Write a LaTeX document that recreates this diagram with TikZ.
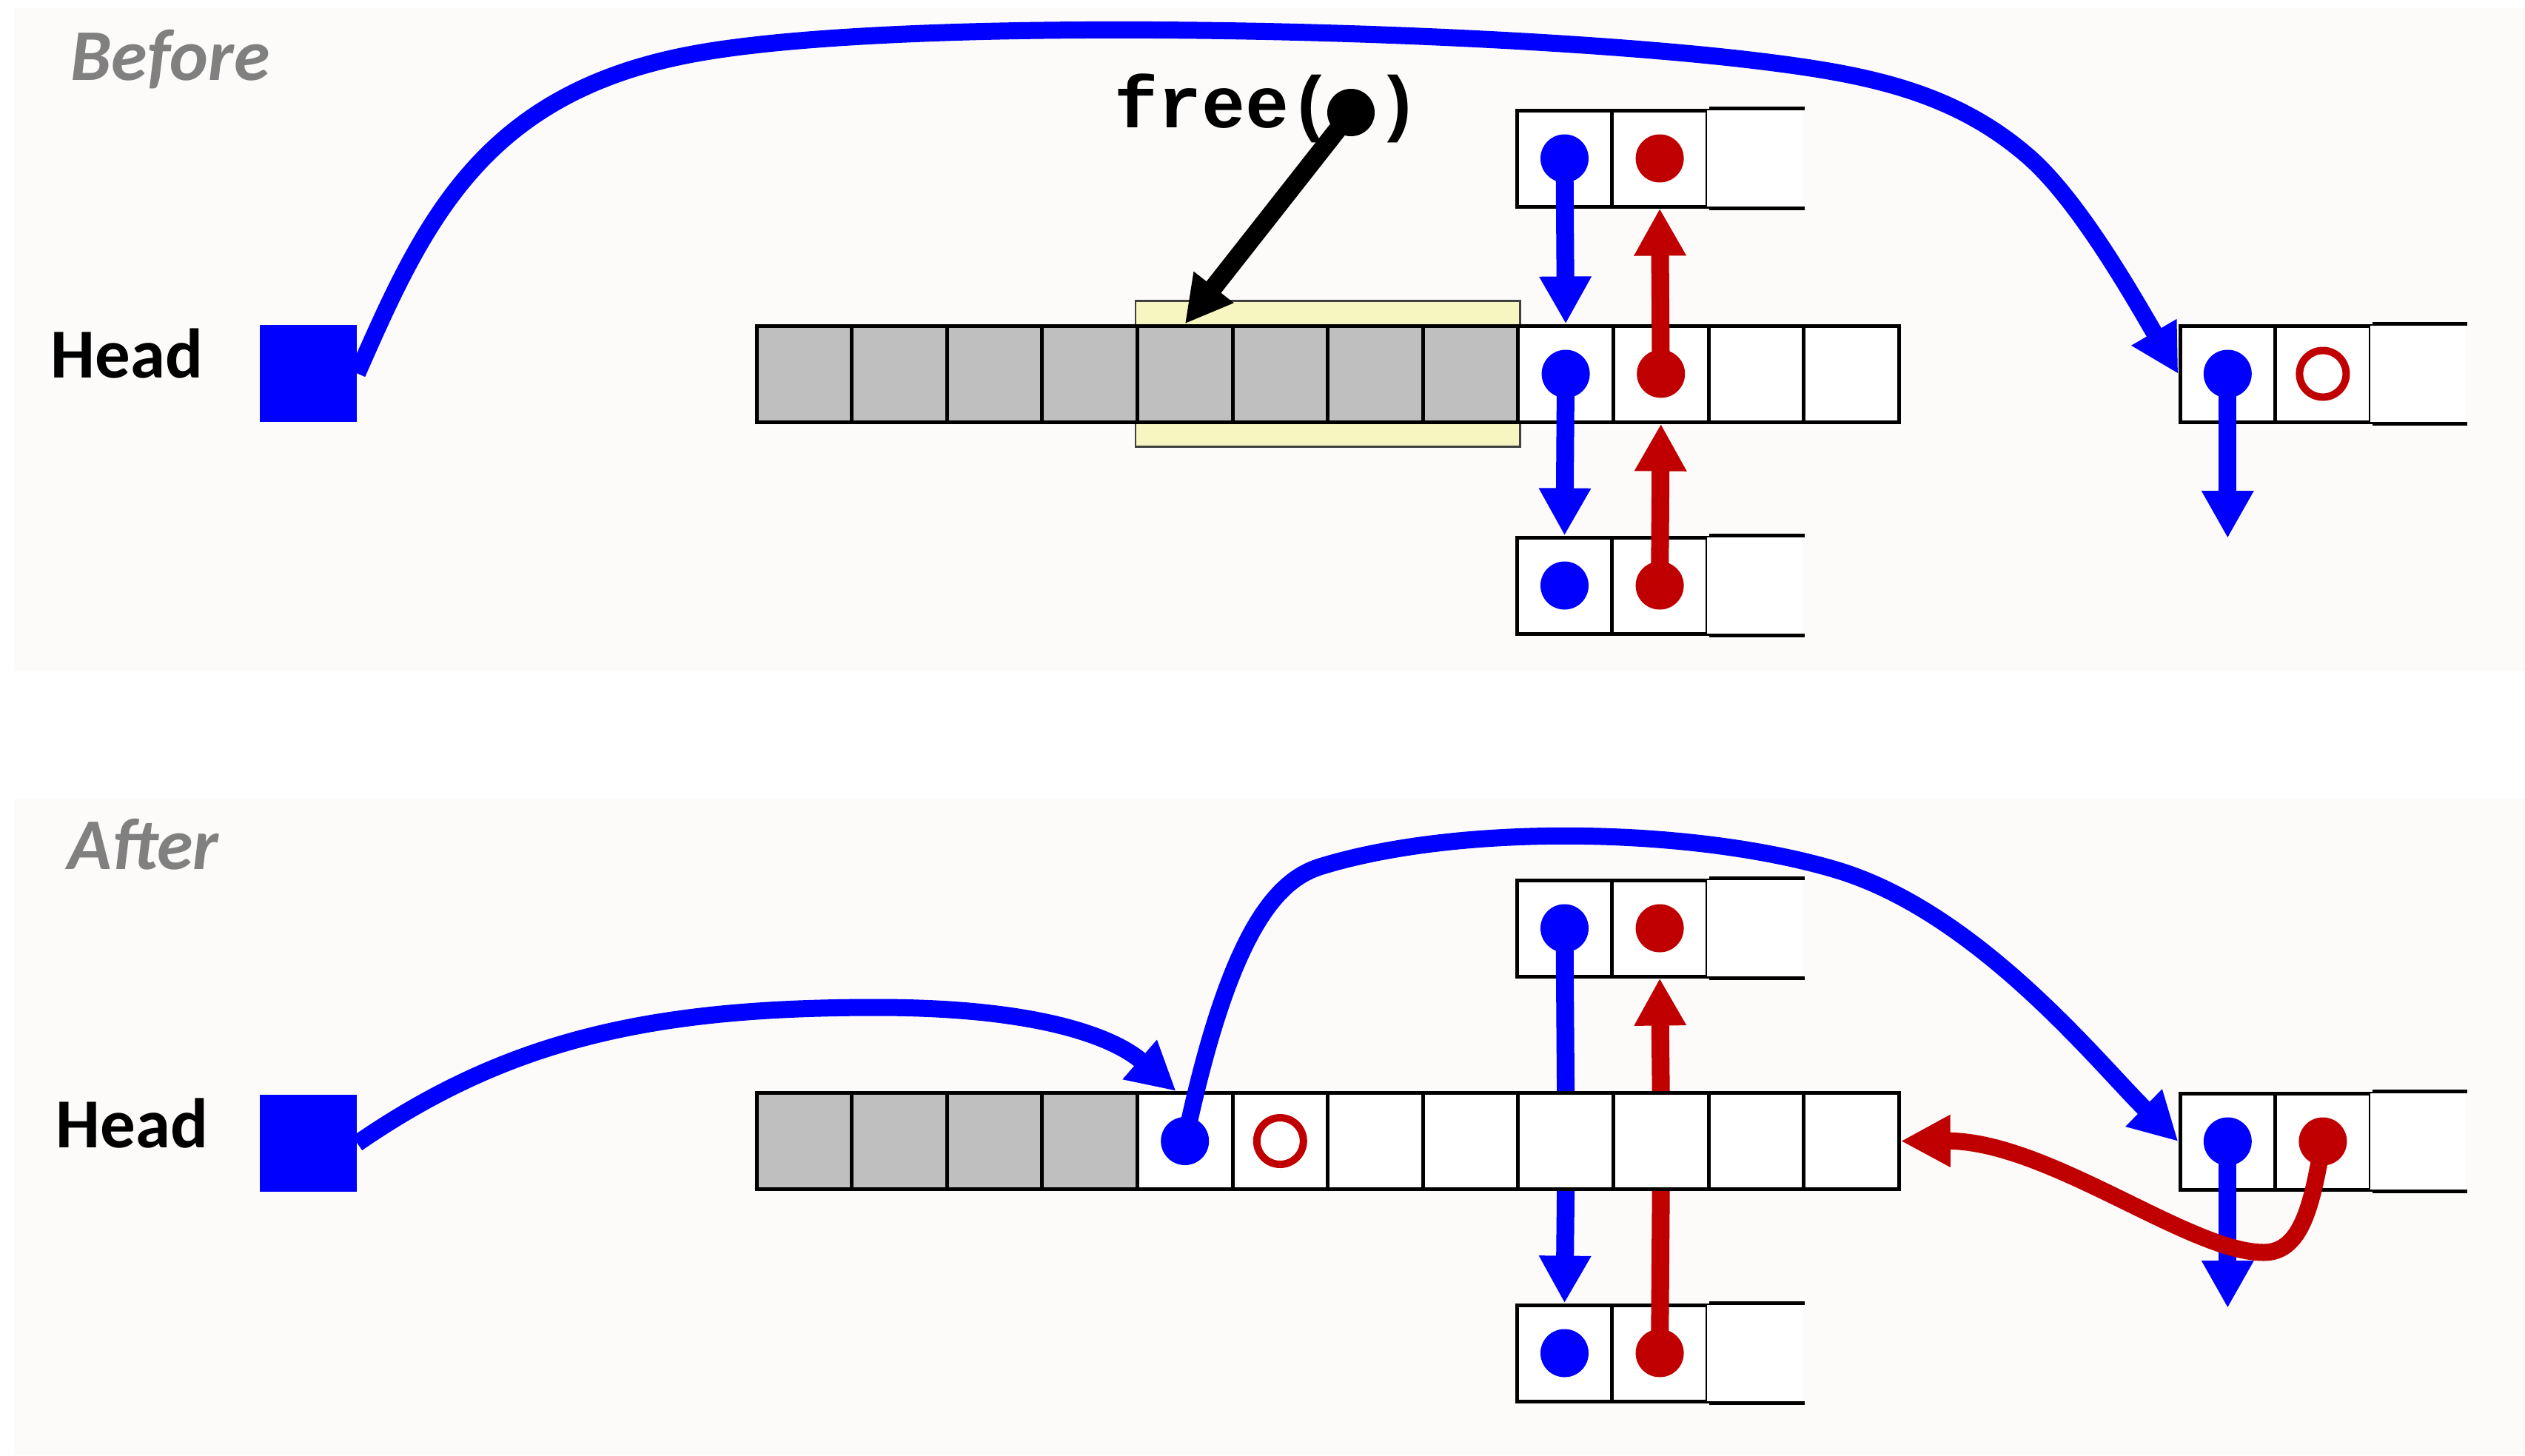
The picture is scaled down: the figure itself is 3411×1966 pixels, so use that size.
\documentclass[tikz,border=0pt]{standalone}
\usepackage{fontspec}
\newfontfamily\calibri{Carlito}
\setmonofont{Liberation Mono}
\usetikzlibrary{arrows.meta,fit,backgrounds}
\definecolor{ptrblue}{RGB}{0,0,255}
\definecolor{ptrred}{RGB}{192,0,0}
\definecolor{usedgray}{RGB}{191,191,191}
\definecolor{panelbg}{RGB}{252,251,249}
\definecolor{phasegray}{RGB}{128,128,128}
\definecolor{freedyellow}{RGB}{247,245,192}
\tikzset{
  heapcell/.style={draw, line width=0.5mm, fill=white, minimum width=12.86mm,
    minimum height=13mm, inner sep=0pt},
  usedcell/.style={heapcell, fill=usedgray},
  opencell/.style={heapcell, draw=none},
  cellrule/.style={line width=0.5mm},
  bdot/.style={circle, fill=ptrblue, minimum size=6.5mm, inner sep=0pt},
  rdot/.style={circle, fill=ptrred, minimum size=6.5mm, inner sep=0pt},
  rring/.style={circle, draw=ptrred, line width=1mm, fill=white, minimum size=6.3mm, inner sep=0pt},
  kdot/.style={circle, fill=black, minimum size=6.4mm, inner sep=0pt},
  headbox/.style={fill=ptrblue, minimum size=13.1mm, inner sep=0pt},
  headlbl/.style={anchor=base west, inner sep=0pt, font=\calibri\bfseries\fontsize{27pt}{32pt}\selectfont},
  phaselbl/.style={anchor=base west, inner sep=0pt, text=phasegray,
    font=\calibri\bfseries\itshape\fontsize{28pt}{33pt}\selectfont},
  calltext/.style={anchor=base west, inner sep=0pt, font=\ttfamily\bfseries\fontsize{28pt}{33pt}\selectfont},
  freedbox/.style={fill=freedyellow, draw=black!75, line width=0.25mm, inner xsep=0pt, inner ysep=3.1mm},
  bline/.style={ptrblue, line width=2.4mm},
  rline/.style={ptrred, line width=2.4mm},
  barrow/.style={bline, -{Triangle[width=6.6mm,length=6.4mm]}},
  rarrow/.style={rline, -{Triangle[width=6.6mm,length=6.4mm]}},
  bcurve/.style={ptrblue, line width=2.3mm, -{Triangle[width=6.6mm,length=6.5mm]}},
  rcurve/.style={ptrred, line width=2.3mm, -{Triangle[width=6.6mm,length=6.7mm]}},
  karrow/.style={line width=2.5mm, -{Triangle[width=6.4mm,length=6.3mm]}}
}
\begin{document}
\begin{tikzpicture}[x=0.1mm,y=-0.1mm]
\useasboundingbox (0,0) rectangle (3411,1966);

% ---- before ----
\node[phaselbl] (btitle) at (95,108) {Before};
\node[headlbl] (bheadlbl) at (68,510) {Head};
\node[headbox] (bhead) at (416.5,504.5) {};
\foreach \i in {0,...,7} \node[usedcell] (bs\i) at ({1086.3+128.6*\i},505) {};
\foreach \i in {8,...,11} \node[heapcell] (bs\i) at ({1086.3+128.6*\i},505) {};
\foreach \i/\s in {0/heapcell,1/heapcell,2/opencell} {
  \node[\s] (bu\i) at ({2113.5+128.6*\i},214) {};
  \node[\s] (bl\i) at ({2113.5+128.6*\i},791) {};
  \node[\s] (br\i) at ({3009.3+128.6*\i},505) {};
}
\foreach \blk in {bu,bl,br} {
  \draw[cellrule] (\blk1.north east) -- (\blk2.north east);
  \draw[cellrule] (\blk1.south east) -- (\blk2.south east);
}
\node[bdot] (bu0p) at (bu0) {};
\node[rdot] (bu1p) at (bu1) {};
\node[bdot] (bs8p) at (bs8) {};
\node[rdot] (bs9p) at (bs9) {};
\node[bdot] (bl0p) at (bl0) {};
\node[rdot] (bl1p) at (bl1) {};
\node[bdot] (br0p) at (br0) {};
\node[rring] (br1p) at (br1) {};
\coordinate (bnext) at (3009.3,727);
\draw[barrow] (bu0p.center) -- (bs8.north);
\draw[rarrow] (bs9p.center) -- (bu1.south);
\draw[barrow] (bs8p.center) -- (bl0.north);
\draw[rarrow] (bl1p.center) -- (bs9.south);
\draw[barrow] (br0p.center) -- (bnext);

% free() call
\node[calltext] (freecall) at (1505,172) {free( )};
\node[kdot] (freeptr) at (1825,152) {};
\draw[karrow] (freeptr.center) -- (bs4.north);

\draw[bcurve] (bhead.east) .. controls (572,301) and (651,126) .. (936,73)
  .. controls (1231,18) and (2057,39.5) .. (2404,86)
  .. controls (2533,103) and (2646,128) .. (2743,214)
  .. controls (2810,274) and (2883,403) .. (br0.west);

% ---- after ----
\node[phaselbl] (atitle) at (91,1174) {After};
\node[headlbl] (aheadlbl) at (75,1550) {Head};
\node[headbox] (ahead) at (416.5,1544.5) {};
\foreach \i in {0,...,3} \node[usedcell] (as\i) at ({1086.3+128.6*\i},1541.5) {};
\foreach \i in {4,...,11} \node[heapcell] (as\i) at ({1086.3+128.6*\i},1541.5) {};
\foreach \i/\s in {0/heapcell,1/heapcell,2/opencell} {
  \node[\s] (au\i) at ({2113.5+128.6*\i},1254) {};
  \node[\s] (al\i) at ({2113.5+128.6*\i},1828) {};
  \node[\s] (ar\i) at ({3009.3+128.6*\i},1542) {};
}
\foreach \blk in {au,al,ar} {
  \draw[cellrule] (\blk1.north east) -- (\blk2.north east);
  \draw[cellrule] (\blk1.south east) -- (\blk2.south east);
}
\node[bdot] (au0p) at (au0) {};
\node[rdot] (au1p) at (au1) {};
\node[bdot] (as4p) at (as4) {};
\node[rring] (as5p) at (as5) {};
\node[bdot] (al0p) at (al0) {};
\node[rdot] (al1p) at (al1) {};
\node[bdot] (ar0p) at (ar0) {};
\node[rdot] (ar1p) at (ar1) {};
\coordinate (anext) at (3009.3,1767);
\coordinate (a4tip) at ([xshift=-1.2mm]as4.north);
\draw[bline] (au0p.center) -- (as8.north);
\draw[rarrow] (as9.north) -- (au1.south);
\draw[barrow] (as8.south) -- (al0.north);
\draw[rline] (al1p.center) -- (as9.south);
\draw[barrow] (ar0p.center) -- (anext);

\draw[bcurve] (ahead.east) .. controls (688,1403) and (884,1361) .. (1184,1361)
  .. controls (1444,1361) and (1523,1417) .. (a4tip);
\draw[bcurve] (as4p.center) .. controls (1663,1247) and (1729,1187) .. (1786,1170)
  .. controls (1977,1112) and (2288,1118) .. (2480,1175)
  .. controls (2672,1232) and (2836,1438) .. (ar0.west);
\draw[rcurve] (ar1p.center) .. controls (3123,1631) and (3108,1692) .. (3058,1692)
  .. controls (2958,1692) and (2766,1541) .. (as11.east);

% panels and freed block go behind
\begin{scope}[on background layer]
  \fill[panelbg] (19,11) rectangle (3411,906);
  \fill[panelbg] (19,1079) rectangle (3411,1966);
  \node[freedbox, fit=(bs4)(bs7)] (freed) {};
\end{scope}
\end{tikzpicture}
\end{document}
